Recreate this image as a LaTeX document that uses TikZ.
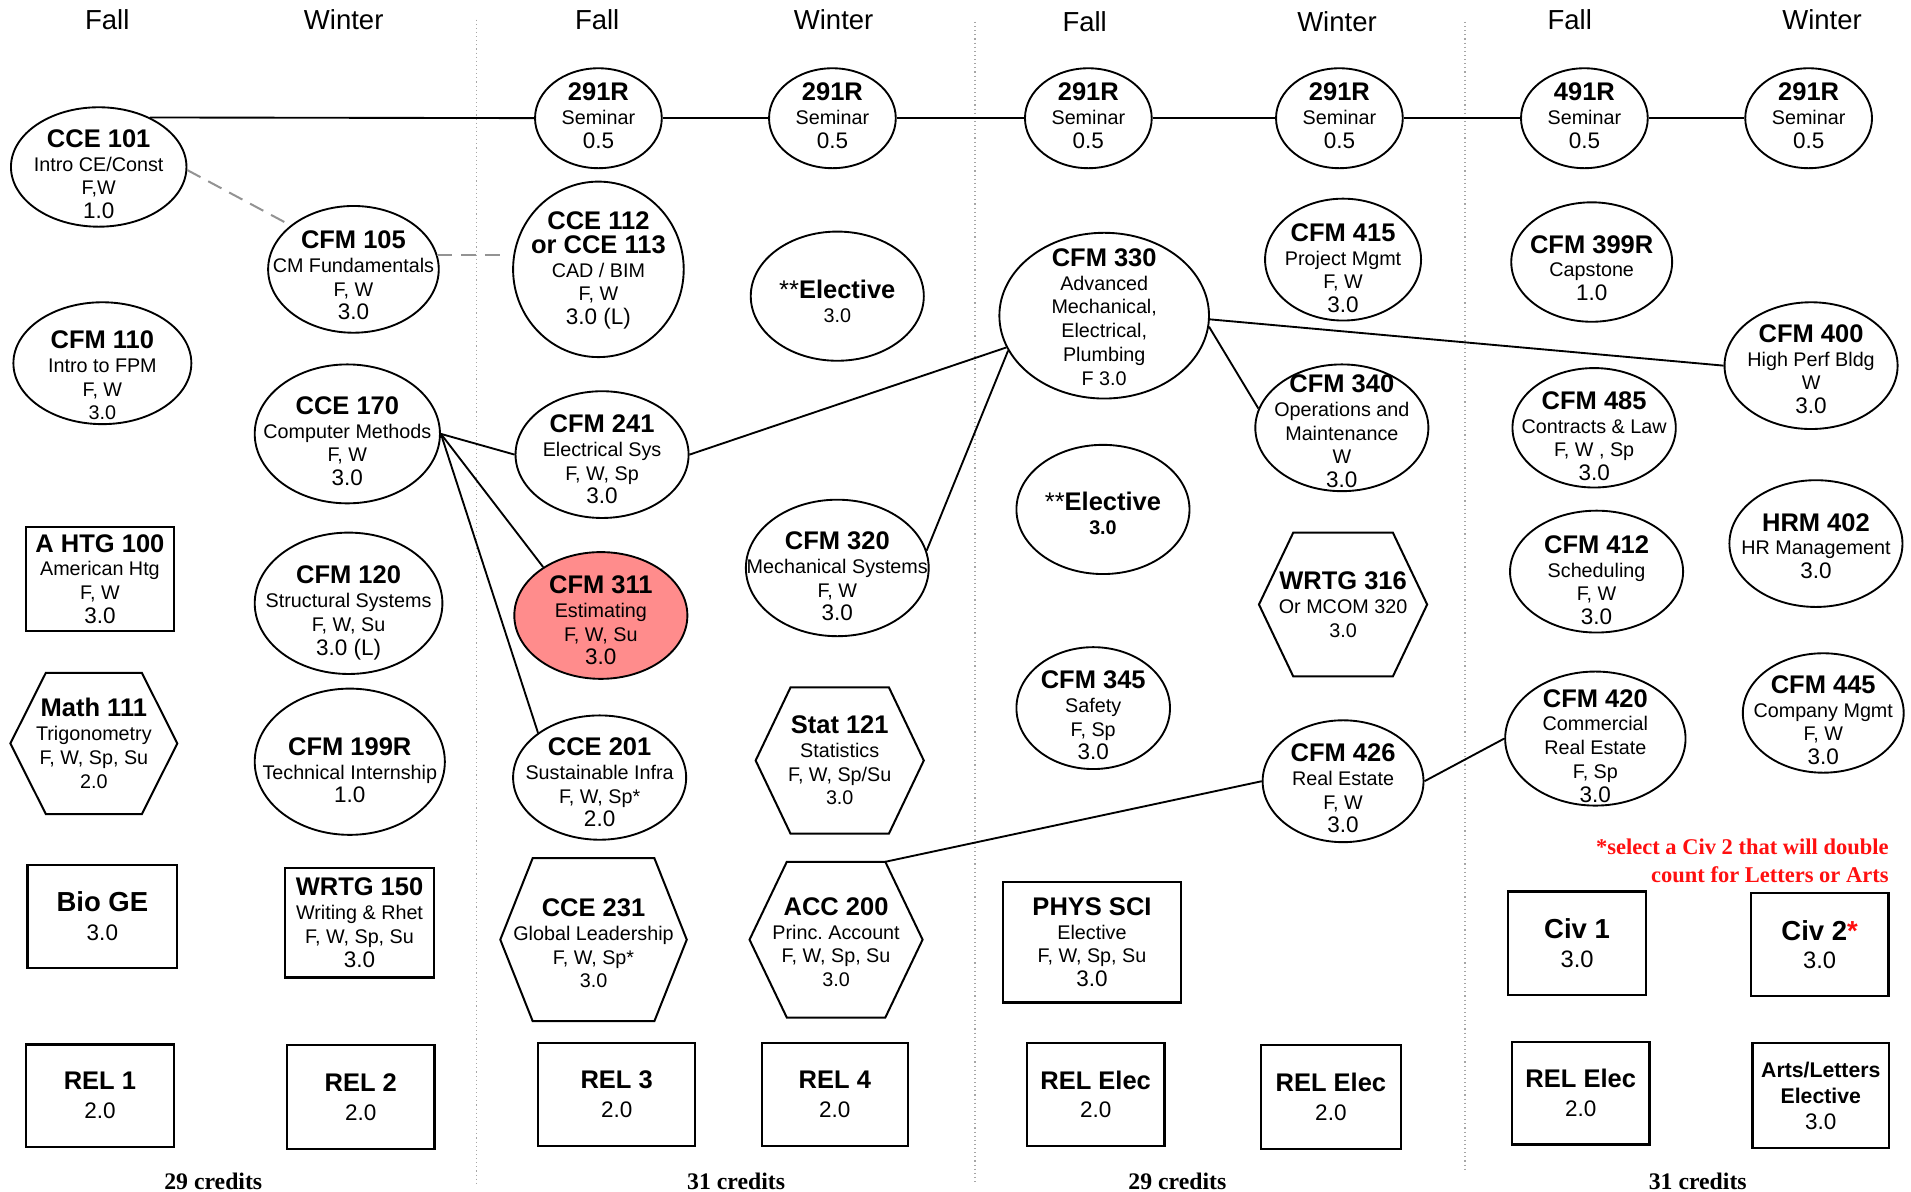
\documentclass[tikz,border=0pt]{standalone}
\usepackage{fontspec}
\setmainfont{Liberation Sans}
\newfontfamily\notefont{Liberation Serif}
\usetikzlibrary{shapes.geometric,calc}
\frenchspacing
\newdimen\unitd \unitd=0.4875pt
\definecolor{estim}{HTML}{FF8C8C}
\definecolor{notered}{HTML}{FF1010}
\newcommand\ctitle[1]{{\fontsize{10.2}{12}\selectfont\bfseries #1}}
\newcommand\cbig[1]{{\fontsize{11}{13}\selectfont\bfseries #1}}
\newcommand\cmed[1]{{\fontsize{9}{11}\selectfont #1}}
\newcommand\cmedb[1]{{\fontsize{9.5}{11}\selectfont #1}}
\tikzset{
  ell/.style={draw, ellipse, line width=0.75pt, inner sep=0pt, fill=white},
  cbox/.style={draw, rectangle, line width=0.9pt, inner sep=0pt, fill=white},
  txt/.style={align=center, inner sep=0pt, font=\fontsize{7.9}{9.5}\selectfont},
  hexline/.style={line width=0.8pt, line join=miter},
  link/.style={line width=0.75pt},
  dlink/.style={line width=0.8pt, color=gray!85, dash pattern=on 6pt off 3.5pt},
  divider/.style={gray!70, line width=0.45pt, dash pattern=on 0.45pt off 1.2pt},
  hdr/.style={font=\fontsize{11}{13}\selectfont, inner sep=0pt},
  credline/.style={font=\notefont\bfseries\fontsize{9.5}{11}\selectfont, inner sep=0pt},
}
% \course[text shift]{name}{x,y}{rx}{ry}{text}
\newcommand\course[6][5]{%
  \node[ell,minimum width={2*#4*\unitd},minimum height={2*#5*\unitd}] (#2) at (#3) {};
  \node[txt] (#2-t) at ($(#2.center)+(0,#1)$) {#6};}
% \coursefill[text shift]{name}{x,y}{rx}{ry}{fill}{text}
\newcommand\coursefill[7][5]{%
  \node[ell,fill=#6,minimum width={2*#4*\unitd},minimum height={2*#5*\unitd}] (#2) at (#3) {};
  \node[txt] (#2-t) at ($(#2.center)+(0,#1)$) {#7};}
\newcommand\boxnode[5]{%
  \node[cbox,minimum width={#3*\unitd},minimum height={#4*\unitd}] (#1) at (#2) {};
  \node[txt] (#1-t) at (#1.center) {#5};}
% \hexnode[text shift]{name}{x,y}{w}{h}{top w}{text}
\newcommand\hexnode[7][0]{%
  \node[inner sep=0pt,minimum width={#6*\unitd},minimum height={#5*\unitd}] (#2) at (#3) {};
  \draw[hexline] (#2.north west) -- (#2.north east) -- ($(#2.center)+(#4/2,0)$) -- (#2.south east) -- (#2.south west) -- ($(#2.center)+(-#4/2,0)$) -- cycle;
  \node[txt] (#2-t) at ($(#2.center)+(0,#1)$) {#7};}
\begin{document}
\begin{tikzpicture}[x=0.4875pt, y=-0.4875pt]
\fill[white] (0,0) rectangle (1568,978);
\useasboundingbox (0,0) rectangle (1568,978);

% headers
\node[hdr] (h1) at (88,16.5) {Fall};
\node[hdr] (h2) at (282,16.5) {Winter};
\node[hdr] (h3) at (490,16) {Fall};
\node[hdr] (h4) at (684,16) {Winter};
\node[hdr] (h5) at (890,18) {Fall};
\node[hdr] (h6) at (1097,18) {Winter};
\node[hdr] (h7) at (1288,16) {Fall};
\node[hdr] (h8) at (1495,16) {Winter};

% dividers
\draw[divider] (391,16) -- (391,972);
\draw[divider] (800,18) -- (800,972);
\draw[divider] (1202,18) -- (1202,962);

% column 1
\course[6]{cce101}{81,137}{72}{49}{\ctitle{CCE 101}\\ Intro CE/Const\\ F,W\\ \cmed{1.0}}
\course[10]{cfm110}{84,298}{73}{50}{\ctitle{CFM 110}\\ Intro to FPM\\ F, W\\ 3.0}
\boxnode{ahtg100}{82,475}{121}{85}{\ctitle{A HTG 100}\\ American Htg\\ F, W\\ \cmed{3.0}}
\hexnode{math111}{77,610}{137}{115}{78}{\ctitle{Math 111}\\ Trigonometry\\ F, W, Sp, Su\\ 2.0}
\boxnode{biogeo}{84,752}{123}{85}{\cbig{Bio GE}\\[2pt] \cmed{3.0}}
\boxnode{rel1}{82,899}{121}{84}{\ctitle{REL 1}\\[2pt] \cmed{2.0}}

% column 2
\course[5]{cfm105}{290,221}{70}{52}{\ctitle{CFM 105}\\ CM Fundamentals\\ F, W\\ \cmed{3.0}}
\course[6]{cce170}{285,356}{76}{57}{\ctitle{CCE 170}\\ Computer Methods\\ F, W\\ \cmed{3.0}}
\course[8]{cfm120}{286,495}{77}{58}{\ctitle{CFM 120}\\ Structural Systems\\ F, W, Su\\ \cmed{3.0 (L)}}
\course[7]{cfm199r}{287,625}{78}{60}{\ctitle{CFM 199R}\\ Technical Internship\\ \cmed{1.0}}
\boxnode{wrtg150}{295,757}{122}{90}{\ctitle{WRTG 150}\\ Writing \& Rhet\\ F, W, Sp, Su\\ \cmed{3.0}}
\boxnode{rel2}{296,900}{121}{85}{\ctitle{REL 2}\\[2pt] \cmed{2.0}}

% column 3
\course[-2]{s1}{491,97}{52}{41}{\ctitle{291R}\\ Seminar\\ \cmed{0.5}}
\course[1]{cce112}{491,221}{70}{72}{\ctitle{CCE 112}\\ \ctitle{or CCE 113}\\ CAD / BIM\\ F, W\\ \cmed{3.0 (L)}}
\course[4]{cfm241}{494,373}{71}{52}{\ctitle{CFM 241}\\ Electrical Sys\\ F, W, Sp\\ \cmed{3.0}}
\coursefill[4]{cfm311}{493,505}{71}{52}{estim}{\ctitle{CFM 311}\\ Estimating\\ F, W, Su\\ \cmed{3.0}}
\course[4]{cce201}{492,638}{71}{51}{\ctitle{CCE 201}\\ Sustainable Infra\\ F, W, Sp*\\ \cmed{2.0}}
\hexnode[3]{cce231}{487,771}{153}{133}{99}{\ctitle{CCE 231}\\ Global Leadership\\ F, W, Sp*\\ 3.0}
\boxnode{rel3}{506,898}{129}{85}{\ctitle{REL 3}\\[2pt] \cmed{2.0}}

% column 4
\course[-2]{s2}{683,97}{52}{41}{\ctitle{291R}\\ Seminar\\ \cmed{0.5}}
\course[4]{elec1}{687,243}{71}{53}{{\fontsize{10.2}{12}\selectfont **\bfseries Elective}\\ 3.0}
\course[7]{cfm320}{687,466}{75}{56}{\ctitle{CFM 320}\\ Mechanical Systems\\ F, W\\ \cmed{3.0}}
\hexnode{stat121}{689,624}{138}{119}{80}{\ctitle{Stat 121}\\ Statistics\\ F, W, Sp/Su\\ 3.0}
\hexnode[2]{acc200}{686,771}{142}{127}{80}{\ctitle{ACC 200}\\ Princ. Account\\ F, W, Sp, Su\\ 3.0}
\boxnode{rel4}{685,898}{120}{84}{\ctitle{REL 4}\\[2pt] \cmed{2.0}}

% column 5
\course[-2]{s3}{893,97}{52}{41}{\ctitle{291R}\\ Seminar\\ \cmed{0.5}}
\course[1]{cfm330}{906,259}{86}{68}{\ctitle{CFM 330}\\ Advanced\\ Mechanical,\\ Electrical,\\ Plumbing\\ F 3.0}
\course[3]{elec2}{905,418}{71}{53}{{\fontsize{10.2}{12}\selectfont **\bfseries Elective}\\ \textbf{3.0}}
\course[6]{cfm345}{897,581}{63}{50}{\ctitle{CFM 345}\\ Safety\\ F, Sp\\ \cmed{3.0}}
\boxnode{physsci}{896,773}{146}{99}{\ctitle{PHYS SCI}\\ Elective\\ F, W, Sp, Su\\ \cmed{3.0}}
\boxnode{relelec1}{899,898}{113}{84}{\ctitle{REL Elec}\\[2pt] \cmed{2.0}}

% column 6
\course[-2]{s4}{1099,97}{52}{41}{\ctitle{291R}\\ Seminar\\ \cmed{0.5}}
\course[7]{cfm415}{1102,213}{64}{50}{\ctitle{CFM 415}\\ Project Mgmt\\ F, W\\ \cmed{3.0}}
\course[3]{cfm340}{1101,351}{71}{52}{\ctitle{CFM 340}\\ Operations and\\ Maintenance\\ W\\ \cmed{3.0}}
\hexnode{wrtg316}{1102,496}{138}{117}{81}{\ctitle{WRTG 316}\\ Or MCOM 320\\ 3.0}
\course[6]{cfm426}{1102,641}{66}{50}{\ctitle{CFM 426}\\ Real Estate\\ F, W\\ \cmed{3.0}}
\boxnode{relelec2}{1092,900}{115}{85}{\ctitle{REL Elec}\\[2pt] \cmed{2.0}}

% column 7
\course[-2]{s5}{1300,97}{52}{41}{\ctitle{491R}\\ Seminar\\ \cmed{0.5}}
\course[5]{cfm399r}{1306,215}{66}{49}{\ctitle{CFM 399R}\\ Capstone\\ \cmed{1.0}}
\course[7]{cfm485}{1308,351}{67}{49}{\ctitle{CFM 485}\\ Contracts \& Law\\ F, W , Sp\\ \cmed{3.0}}
\course[7]{cfm412}{1310,469}{71}{50}{\ctitle{CFM 412}\\ Scheduling\\ F, W\\ \cmed{3.0}}
\course[6]{cfm420}{1309,606}{74}{55}{\ctitle{CFM 420}\\ Commercial\\ Real Estate\\ F, Sp\\ \cmed{3.0}}
\boxnode{civ1}{1294,774}{113}{85}{\cbig{Civ 1}\\[2pt] \cmedb{3.0}}
\boxnode{relelec3}{1297,897}{113}{84}{\ctitle{REL Elec}\\[2pt] \cmed{2.0}}

% column 8
\course[-2]{s6}{1484,97}{52}{41}{\ctitle{291R}\\ Seminar\\ \cmed{0.5}}
\course[3]{cfm400}{1486,300}{71}{52}{\ctitle{CFM 400}\\ High Perf Bldg\\ W\\ \cmed{3.0}}
\course[2]{hrm402}{1490,446}{71}{52}{\ctitle{HRM 402}\\ HR Management\\ \cmed{3.0}}
\course[6]{cfm445}{1496,585}{66}{49}{\ctitle{CFM 445}\\ Company Mgmt\\ F, W\\ \cmed{3.0}}
\boxnode{civ2}{1493,775}{113}{85}{\cbig{Civ 2\textcolor{notered}{*}}\\[2pt] \cmedb{3.0}}
\boxnode{arts}{1494,899}{112}{86}{{\fontsize{8.5}{10}\selectfont\bfseries Arts/Letters}\\[1pt] {\fontsize{8.5}{10}\selectfont\bfseries Elective}\\[1pt] \cmed{3.0}}

% note and credits
\node[font=\notefont\bfseries\fontsize{9}{11.2}\selectfont, text=notered, align=right, inner sep=0pt, anchor=east] (note) at (1550,706) {*select a Civ 2 that will double\\ count for Letters or Arts};
\node[credline] (cr1) at (175,969) {29 credits};
\node[credline] (cr2) at (604,969) {31 credits};
\node[credline] (cr3) at (966,969) {29 credits};
\node[credline] (cr4) at (1393,969) {31 credits};

% seminar line
\draw[link] (cce101.44) -- (s1);
\draw[link] (s1) -- (s2);
\draw[link] (s2) -- (s3);
\draw[link] (s3) -- (s4);
\draw[link] (s4) -- (s5);
\draw[link] (s5) -- (s6);

% dashed links
\draw[dlink] (cce101.-2) -- (cfm105.145);
\draw[dlink] (cfm105.10) -- ([xshift=-3pt]cfm105.10 -| cce112.west);

% prerequisite links
\draw[link] (cce170.east) -- (cfm241.west);
\draw[link] (cce170.east) -- (cfm311.140);
\draw[link] (cce170.east) -- (cce201.144);
\draw[link] (cfm241.east) -- (cfm330.198);
\draw[link] (cfm320.11) -- (cfm330.200);
\draw[link] (cfm330.-2) -- (cfm400.west);
\draw[link] (cfm330.-6) -- (cfm340.167);
\draw[link] (acc200.north east) -- (cfm426.west);
\draw[link] (cfm426.east) -- (cfm420.west);
\end{tikzpicture}
\end{document}
